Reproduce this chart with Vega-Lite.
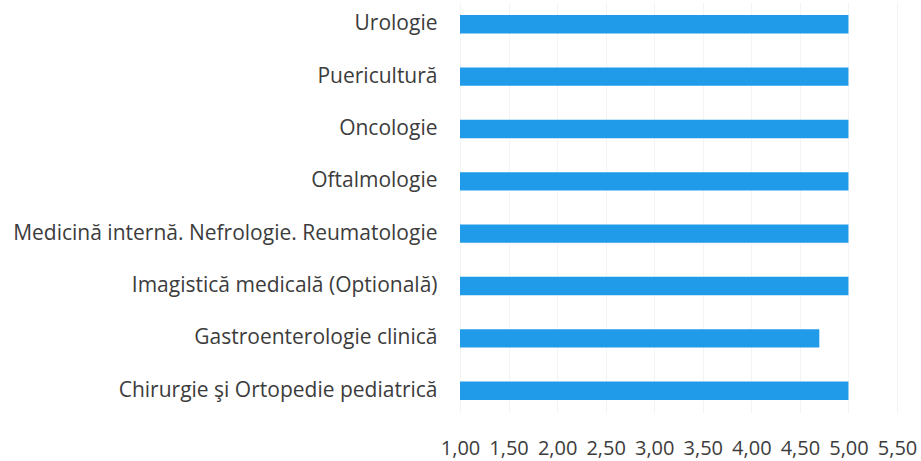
{
  "$schema": "https://vega.github.io/schema/vega-lite/v6.json",
  "width": 437,
  "height": 411,
  "autosize": {"type": "none"},
  "padding": {"left": 460, "top": 2, "right": 24, "bottom": 48},
  "background": "white",
  "config": {"view": {"stroke": null}, "font": "Open Sans"},
  "data": {"values": [
    {"specialitate": "Urologie", "valoare": 5.0},
    {"specialitate": "Puericultură", "valoare": 5.0},
    {"specialitate": "Oncologie", "valoare": 5.0},
    {"specialitate": "Oftalmologie", "valoare": 5.0},
    {"specialitate": "Medicină internă. Nefrologie. Reumatologie", "valoare": 5.0},
    {"specialitate": "Imagistică medicală (Optională)", "valoare": 5.0},
    {"specialitate": "Gastroenterologie clinică", "valoare": 4.7},
    {"specialitate": "Chirurgie şi Ortopedie pediatrică", "valoare": 5.0}
  ]},
  "mark": {"type": "bar", "color": "#1f9bea", "clip": true},
  "encoding": {
    "y": {
      "field": "specialitate", "type": "nominal", "sort": null, "title": null,
      "scale": {"paddingInner": 0.65, "paddingOuter": 0.25},
      "axis": {"ticks": false, "domain": false, "labelPadding": 23, "labelFontSize": 21, "labelColor": "#3c3c3c", "labelLimit": 500}
    },
    "x": {
      "field": "valoare", "type": "quantitative", "title": null,
      "scale": {"domain": [1, 5.5], "zero": false, "nice": false},
      "axis": {"values": [1, 1.5, 2, 2.5, 3, 3.5, 4, 4.5, 5, 5.5], "labelExpr": "replace(format(datum.value, '.2f'), '.', ',')", "ticks": false, "domain": false, "grid": true, "gridColor": "#f3f4f6", "labelPadding": 35, "labelBaseline": "middle", "labelFontSize": 20, "labelColor": "#3c3c3c", "labelFlush": false}
    }
  }
}
